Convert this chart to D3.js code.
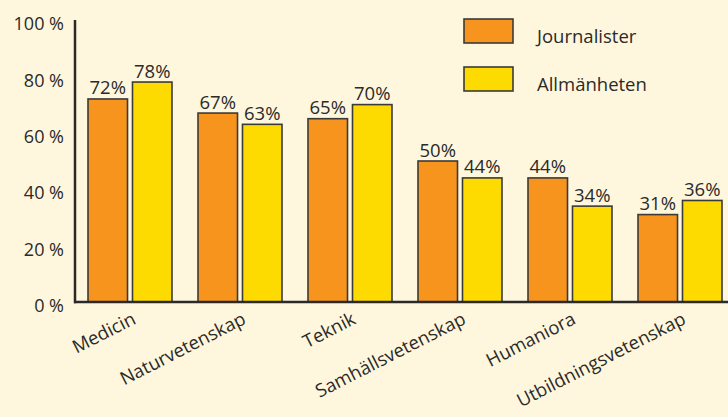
<!DOCTYPE html>
<html><head><meta charset="utf-8">
<script src="https://cdn.jsdelivr.net/npm/d3@7"></script>
<style>
html,body{margin:0;padding:0;background:#fef7dd;}
svg{display:block;}
text{font-family:"Open Sans",sans-serif;fill:#2b2a29;}
</style></head>
<body>
<svg id="chart" width="728" height="417"></svg>
<script>
const categories = ["Medicin","Naturvetenskap","Teknik","Samhällsvetenskap","Humaniora","Utbildningsvetenskap"];
const series = ["Journalister","Allmänheten"];
const journalister = [72,67,65,50,44,31];
const allmanheten = [78,63,70,44,34,36];
const yTicks = [0,20,40,60,80,100];
const colors = ["#f7941d","#fedb00"];

const svg = d3.select("#chart");
svg.append("rect").attr("width",728).attr("height",417).attr("fill","#fef7dd");

const x0 = d3.scaleBand().domain(categories).range([75,735]).paddingInner(0).paddingOuter(0);
const x1 = d3.scaleBand().domain(series).range([13,97]).paddingInner(0.112).paddingOuter(0);
const y = d3.scaleLinear().domain([0,100]).range([302,20]);

const values = [journalister, allmanheten];

// bars
categories.forEach((c,i)=>{
  const g = svg.append("g").attr("transform",`translate(${x0(c)},0)`);
  series.forEach((s,j)=>{
    const v = values[j][i];
    g.append("rect")
      .attr("x",x1(s)).attr("y",y(v))
      .attr("width",x1.bandwidth()).attr("height",y(0)-y(v))
      .attr("fill",colors[j]).attr("stroke","#3a3a3a").attr("stroke-width",1.6);
    g.append("text")
      .attr("x",x1(s)+x1.bandwidth()/2).attr("y",y(v)-4.5)
      .attr("text-anchor","middle").style("font-size","18.5px")
      .text(v+"%");
  });
});

// y axis
const yAxis = d3.axisLeft(y).tickValues(yTicks).tickSize(0).tickPadding(11).tickFormat(d=>d+" %");
const ya = svg.append("g").attr("transform","translate(75,0)").call(yAxis);
ya.select(".domain").remove();
ya.selectAll("text").style("font-size","18px").attr("dy","0.32em").attr("y",4).attr("fill","#2b2a29").style("fill","#2b2a29");

svg.append("line").attr("x1",75).attr("x2",75).attr("y1",y(100)).attr("y2",y(0)+1.2)
  .attr("stroke","#2b2a29").attr("stroke-width",2.5);
svg.append("line").attr("x1",74).attr("x2",728).attr("y1",y(0)).attr("y2",y(0))
  .attr("stroke","#2b2a29").attr("stroke-width",2.5);

// category labels
categories.forEach(c=>{
  const cx = x0(c)+x0.bandwidth()/2+7;
  svg.append("text")
    .attr("transform",`translate(${cx},323) rotate(-27)`)
    .attr("text-anchor","end").style("font-size","18.5px")
    .text(c);
});

// legend
series.forEach((s,j)=>{
  svg.append("rect").attr("x",464).attr("y",19+j*48).attr("width",49).attr("height",24)
    .attr("fill",colors[j]).attr("stroke","#3a3a3a").attr("stroke-width",1.6);
  svg.append("text").attr("x",537).attr("y",42.5+j*48).style("font-size","18.5px").text(s);
});
</script>
</body></html>
